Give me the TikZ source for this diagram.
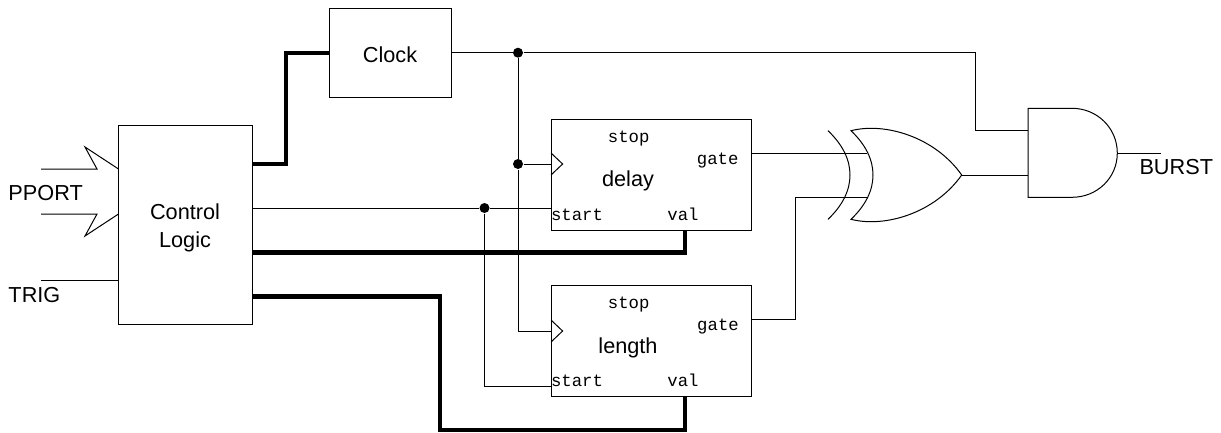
\documentclass[tikz,border=0pt]{standalone}
\usepackage{fontspec}
\setmainfont{Liberation Sans}
\setmonofont{Liberation Mono}
\begin{document}
\begin{tikzpicture}[x=1pt,y=-1pt,line width=1pt,line join=miter,
  block/.style={draw,anchor=north west,inner sep=0pt,outer sep=0pt},
  lbl/.style={anchor=base,inner sep=0pt,font=\fontsize{21.7}{26}\selectfont},
  port/.style={anchor=base,inner sep=0pt,font=\fontsize{17.3}{20}\selectfont\ttfamily},
  thickwire/.style={line width=4.2pt},
  junction/.style={circle,fill=black,draw=none,minimum size=10pt,inner sep=0pt}]
\useasboundingbox (0,0) rectangle (1221,432);
% blocks
\node[block,minimum width=133.5pt,minimum height=199.5pt] (ctrl) at (118.5,125) {};
\node[block,minimum width=122.4pt,minimum height=89.4pt] (clock) at (329.3,8.3) {};
\node[block,minimum width=200pt,minimum height=110.5pt] (delay) at (551,119.5) {};
\node[block,minimum width=200pt,minimum height=111pt] (length) at (551,285.7) {};
% free ends and ports
\coordinate (pa) at (41,169);
\coordinate (pb) at (41,214);
\coordinate (tr) at (41,280);
\coordinate (burst) at (1161,153);
\coordinate (ctrlA) at (118.5,169);
\coordinate (ctrlB) at (118.5,214);
\coordinate (ctrlT) at (118.5,280);
\coordinate (ctrlClk) at (252,164);
\coordinate (ctrlStart) at (252,208);
\coordinate (ctrlD) at (252,252.5);
\coordinate (ctrlL) at (252,296.5);
\coordinate (clkIn) at (329.3,52.7);
\coordinate (clkOut) at (451.7,52.7);
\coordinate (dClk) at (551,164);
\coordinate (dStart) at (551,208);
\coordinate (dVal) at (685,230);
\coordinate (dGate) at (751,153);
\coordinate (lClk) at (551,331);
\coordinate (lStart) at (551,386);
\coordinate (lVal) at (685,396.7);
\coordinate (lGate) at (751,319);
\coordinate (orA) at (867,153);
\coordinate (orB) at (867,197);
\coordinate (orOut) at (961.7,175);
\coordinate (andA) at (1028,130.7);
\coordinate (andB) at (1028,175);
\coordinate (andOut) at (1117.3,153);
% junctions
\node[junction] (j1) at (518,52.7) {};
\node[junction] (j2) at (518,164) {};
\node[junction] (j3) at (484.5,208) {};
% inputs
\draw (pa) -- (97,169) -- (85,147) -- (ctrlA);
\draw (pb) -- (97,214) -- (85,236) -- (ctrlB);
\draw (tr) -- (ctrlT);
% wires
\draw[thickwire] (ctrlClk) -- (286,164) -- (286,52.7) -- (clkIn);
\draw[thickwire] (ctrlD) -- (685,252.5) -- (dVal);
\draw[thickwire] (ctrlL) -- (440,296.5) -- (440,430) -- (685,430) -- (lVal);
\draw (clkOut) -- (j1) -- (975,52.7) -- (975,130.7) -- (andA);
\draw (j1) -- (j2) -- (518,331) -- (lClk);
\draw (j2) -- (dClk);
\draw (ctrlStart) -- (j3) -- (dStart);
\draw (j3) -- (484.5,386) -- (lStart);
\draw (dGate) -- (orA);
\draw (lGate) -- (795,319) -- (795,197) -- (orB);
\draw (orOut) -- (andB);
\draw (andOut) -- (burst);
% clock triangles
\draw (551,153) -- (562.6,164) -- (551,175);
\draw (551,320) -- (562.6,331) -- (551,342);
% XOR gate
\draw (828,130.7) .. controls (843,145) and (850,160) .. (850,175) .. controls (850,190) and (843,205) .. (828,219.3);
\draw (851,130.7) .. controls (866,145) and (873,160) .. (873,175) .. controls (873,190) and (866,205) .. (851,219.3)
  .. controls (885,228) and (935,213) .. (orOut) .. controls (935,137) and (885,122) .. cycle;
% AND gate
\draw (1072,108.3) -- (1028,108.3) -- (1028,197.3) -- (1072,197.3)
  .. controls (1097,197.3) and (1117.3,178) .. (andOut)
  .. controls (1117.3,128) and (1097,108.3) .. cycle;
% texts
\node[lbl] (tClock) at (390,62.3) {Clock};
\node[lbl] (tCtl) at (185,219) {Control};
\node[lbl] (tLog) at (185,247) {Logic};
\node[lbl,anchor=base west] (tPP) at (8,200.7) {PPORT};
\node[lbl,anchor=base west] (tTR) at (8,302.7) {TRIG};
\node[lbl,anchor=base west] (tBU) at (1139,174.3) {BURST};
\node[lbl] (tDelay) at (628,186) {delay};
\node[lbl] (tLen) at (628,353) {length};
\node[port] (dStop) at (628.7,142) {stop};
\node[port] (dGt) at (717.7,164.3) {gate};
\node[port] (dSt) at (577,220) {start};
\node[port] (dV) at (683,220) {val};
\node[port] (lStop) at (628.7,308) {stop};
\node[port] (lGt) at (718,330) {gate};
\node[port] (lSt) at (577,386) {start};
\node[port] (lV) at (683,386) {val};
\end{tikzpicture}
\end{document}
